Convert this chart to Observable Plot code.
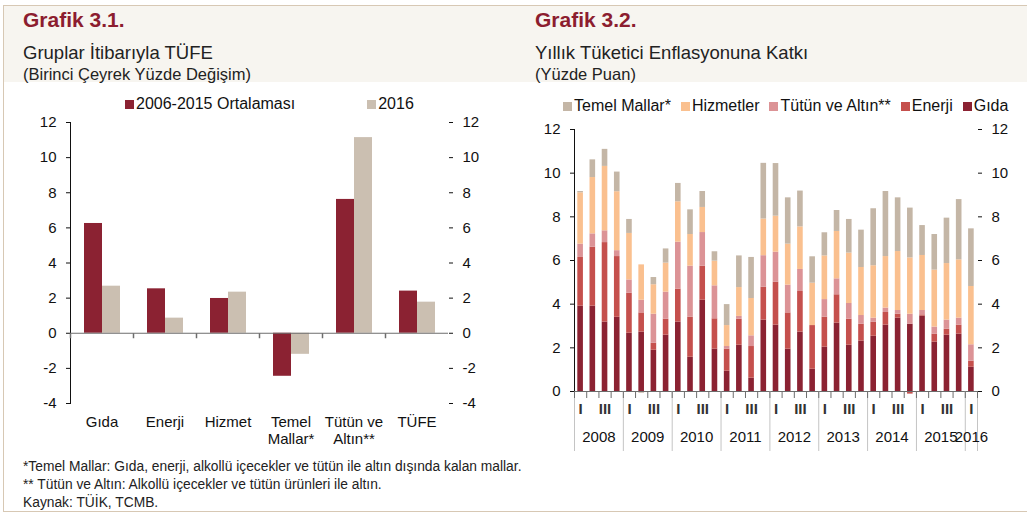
<!DOCTYPE html>
<html>
<head>
<meta charset="utf-8">
<script src="https://cdn.jsdelivr.net/npm/d3@7"></script>
<script src="https://cdn.jsdelivr.net/npm/@observablehq/plot@0.6"></script>
<style>
  body { margin: 0; background: #fff; }
  #page { position: relative; width: 1027px; height: 514px; overflow: hidden; background: #fff;
          font-family: "Liberation Sans", Arial, sans-serif; color: #1a1a1a; }
  .hdr { position: absolute; left: 4px; top: 6px; width: 1030px; height: 76px; background: #f7f5f0; }
  .frame { position: absolute; left: 3px; top: 5px; width: 1040px; height: 507px; border: 1px solid #d7c8b4; box-sizing: border-box; }
  .t { position: absolute; white-space: nowrap; line-height: 1; }
  .title { font-weight: bold; font-size: 21px; color: #8c1d2f; }
  .sub { font-size: 18.5px; color: #222; }
  .sub2 { font-size: 16.5px; color: #222; }
  .legend { position: absolute; display: flex; align-items: center; font-size: 16px; line-height: 1; white-space: nowrap; color: #111; }
  .legend .item { display: flex; align-items: center; }
  .legend .sw { display: inline-block; width: 9px; height: 9px; margin-right: 2px; }
  .note { font-size: 13.8px; color: #222; }
  .chart { position: absolute; }
</style>
</head>
<body>
<div id="page">
  <div class="hdr"></div>
  <div class="frame"></div>
  <div class="t title" style="left:23px;top:9px">Grafik 3.1.</div>
  <div class="t sub" style="left:23px;top:44px">Gruplar İtibarıyla TÜFE</div>
  <div class="t sub2" style="left:23px;top:66px">(Birinci Çeyrek Yüzde Değişim)</div>
  <div class="t title" style="left:535px;top:9px">Grafik 3.2.</div>
  <div class="t sub" style="left:535px;top:44px">Yıllık Tüketici Enflasyonuna Katkı</div>
  <div class="t sub2" style="left:535px;top:66px">(Yüzde Puan)</div>
  <div id="legend1" class="legend" style="left:125px;top:96px;gap:72px"></div>
  <div id="legend2" class="legend" style="left:563px;top:98px;gap:10px"></div>
  <div id="chart1" class="chart" style="left:0px;top:112px"></div>
  <div id="chart2" class="chart" style="left:520px;top:115px"></div>
  <div class="t note" style="left:23px;top:460px">*Temel Mallar: Gıda, enerji, alkollü içecekler ve tütün ile altın dışında kalan mallar.</div>
  <div class="t note" style="left:23px;top:478px">** Tütün ve Altın: Alkollü içecekler ve tütün ürünleri ile altın.</div>
  <div class="t note" style="left:23px;top:496px">Kaynak: TÜİK, TCMB.</div>
</div>
<script>
// ---------- Grafik 3.1 data ----------
const groups = ["Gıda", "Enerji", "Hizmet", "Temel\nMallar*", "Tütün ve\nAltın**", "TÜFE"];
const series1 = ["2006-2015 Ortalaması", "2016"];
const avg20062015 = [6.25, 2.53, 1.98, -2.45, 7.62, 2.40];
const y2016 = [2.68, 0.86, 2.34, -1.20, 11.14, 1.77];
const colors1 = ["#8b2232", "#cbbfb1"];
const yTicks1 = [-4, -2, 0, 2, 4, 6, 8, 10, 12];

// ---------- Grafik 3.2 data (quarterly, 2008 Q1 – 2016 Q1) ----------
const startYear = 2008;
const quarterLabels = ["I", "", "III", ""];
const series2 = ["Gıda", "Enerji", "Tütün ve Altın**", "Hizmetler", "Temel Mallar*"]; // stack order bottom→top
const legendOrder2 = ["Temel Mallar*", "Hizmetler", "Tütün ve Altın**", "Enerji", "Gıda"];
const colors2 = ["#8b2232", "#c5504d", "#dc9396", "#fac08f", "#c4b6a6"];
const gida   = [3.91, 3.91, 3.18, 3.40, 2.67, 2.72, 1.89, 2.58, 3.18, 1.57, 4.18, 1.94, 0.93, 2.12, 0.61, 3.27, 3.04, 1.94, 2.72, 1.02, 2.03, 3.13, 2.12, 2.31, 2.53, 3.04, 3.36, 3.08, 3.45, 2.26, 2.58, 2.63, 1.11];
const enerji = [2.23, 2.70, 3.64, 2.78, 1.83, 0.88, 0.32, 0.73, 1.51, 1.83, 1.56, 1.39, 1.01, 1.19, 1.45, 1.51, 1.97, 1.66, 1.86, 2.00, 1.37, 1.30, 1.19, 0.77, 0.65, 0.58, 0.18, -0.12, 0.06, 0.37, 0.27, 0.41, 0.28];
const tutun  = [0.61, 0.61, 0.54, 0.27, 0.61, 0.58, 1.33, 1.24, 2.15, 2.34, 1.54, 1.51, 0.12, 0.13, 0.49, 1.44, 1.37, 1.27, 1.01, 0.00, 0.81, 0.73, 0.72, 0.40, 0.18, 0.20, 0.17, 0.46, 0.20, 0.32, 0.42, 0.32, 0.75];
const hizmet = [2.35, 2.58, 2.95, 2.70, 2.13, 1.62, 1.35, 1.33, 1.85, 1.45, 1.15, 1.13, 0.96, 1.32, 1.71, 1.68, 1.65, 1.88, 1.95, 1.94, 2.00, 2.17, 2.31, 2.20, 2.40, 2.36, 2.70, 2.58, 2.52, 2.61, 2.59, 2.67, 2.67];
const temel  = [0.06, 0.81, 0.78, 0.90, 0.64, -0.08, 0.33, 0.65, 0.84, 1.13, 0.73, 0.43, 0.96, 1.45, 1.88, 2.55, 2.41, 2.12, 1.64, 1.21, 1.06, 0.96, 1.54, 1.71, 2.61, 2.98, 2.46, 2.28, 1.37, 1.63, 2.08, 2.76, 2.64];
const yTicks2 = [0, 2, 4, 6, 8, 10, 12];

// ---------- legends ----------
function legend(el, names, domain, range) {
  const c = d3.scaleOrdinal(domain, range);
  for (const n of names) {
    const it = document.createElement("span");
    it.className = "item";
    it.innerHTML = `<span class="sw" style="background:${c(n)}"></span><span></span>`;
    it.lastChild.textContent = n;
    el.appendChild(it);
  }
}
legend(document.getElementById("legend1"), series1, series1, colors1);
legend(document.getElementById("legend2"), legendOrder2, series2, colors2);

const axisColor = "#6d6d6d";
const tickDown = { draw(ctx) { ctx.moveTo(0, 0); ctx.lineTo(0, 5); } };
const plainNum = d => String(d); // hyphen-minus as in the original

// ---------- Chart 1 ----------
const data1 = groups.flatMap((g, i) => [
  { g, s: series1[0], v: avg20062015[i] },
  { g, s: series1[1], v: y2016[i] }
]);

const chart1 = Plot.plot({
  width: 494, height: 341,
  marginLeft: 69, marginRight: 45, marginTop: 10, marginBottom: 50,
  style: { fontFamily: "Liberation Sans, Arial, sans-serif", fontSize: "15px", color: "#111", background: "transparent", overflow: "visible" },
  fx: { domain: groups, padding: 0, label: null },
  x: { domain: series1, paddingInner: 0, paddingOuter: 0.75, axis: null },
  y: { domain: [-4, 12], ticks: yTicks1, tickFormat: plainNum, axis: "both", line: true, tickSize: 4, tickPadding: 10, label: null },
  color: { domain: series1, range: colors1 },
  marks: [
    Plot.axisFx({ anchor: "bottom", tickSize: 0, tickPadding: 11, lineHeight: 1.15, label: null, fontSize: 15 }),
    Plot.barY(data1, { fx: "g", x: "s", y: "v", fill: "s" }),
    Plot.ruleY([0], { stroke: axisColor }),
    Plot.dot([0], { y: d => d, frameAnchor: "left", symbol: tickDown, stroke: axisColor, fill: "none" })
  ]
});
document.getElementById("chart1").appendChild(chart1);

// ---------- Chart 2 ----------
const seriesValues = [gida, enerji, tutun, hizmet, temel];
const periods = d3.range(gida.length).map(i => ({ i, year: startYear + Math.floor(i / 4), q: i % 4 }));
const data2 = periods.flatMap(p => series2.map((s, k) => ({ i: p.i, s, v: seriesValues[k][p.i] })));
const n = periods.length;
const boundaries = d3.range(0, n + 1);
const yearGroups = d3.groups(periods, d => d.year).map(([year, ps]) => ({
  year, start: d3.min(ps, d => d.i), end: d3.max(ps, d => d.i) + 1
}));
const yearEdges = [...yearGroups.map(d => d.start), n];
const qLabels = periods.filter(p => quarterLabels[p.q] !== "");

const chart2 = Plot.plot({
  width: 502, height: 341,
  marginLeft: 54, marginRight: 45, marginTop: 14, marginBottom: 65,
  style: { fontFamily: "Liberation Sans, Arial, sans-serif", fontSize: "15px", color: "#111", background: "transparent", overflow: "visible" },
  x: { domain: [0, n], label: null },
  y: { domain: [0, 12], ticks: yTicks2, tickFormat: plainNum, axis: "both", line: true, tickSize: 4, tickPadding: 10, label: null },
  color: { domain: series2, range: colors2 },
  marks: [
    Plot.rectY(data2, { x: "i", interval: 1, y: "v", fill: "s", order: series2, insetLeft: 3.3, insetRight: 3.3 }),
    Plot.ruleY([0], { stroke: axisColor }),
    Plot.axisX(yearEdges, { tickSize: 60, tickFormat: () => "", stroke: "#c4c4c4", label: null }),
    Plot.axisX(boundaries, { tickSize: 7, tickFormat: () => "", stroke: axisColor, label: null }),
    Plot.text(qLabels, { x: d => d.i + 0.5, text: d => quarterLabels[d.q], frameAnchor: "bottom", dy: 22, fontWeight: "bold", fill: "#333" }),
    Plot.text(yearGroups, { x: d => (d.start + d.end) / 2, text: d => String(d.year), frameAnchor: "bottom", dy: 50 })
  ]
});
document.getElementById("chart2").appendChild(chart2);
</script>
</body>
</html>
